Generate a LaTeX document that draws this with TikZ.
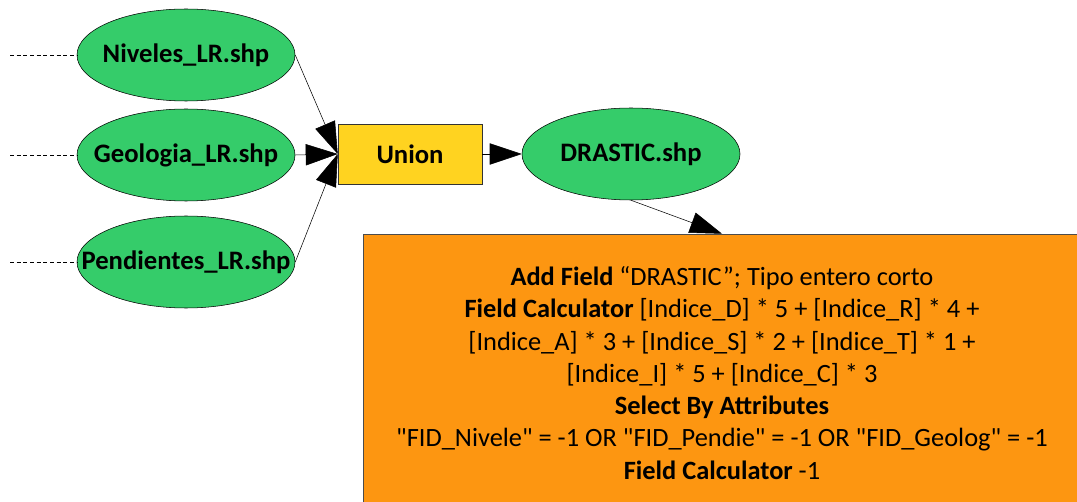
\documentclass[tikz,border=0pt]{standalone}
\usepackage{fontspec}
\setmainfont{Carlito}
\usepackage{tikz}
\usetikzlibrary{arrows.meta,shapes.geometric}
\definecolor{verde}{HTML}{35CC6A}
\definecolor{giallo}{HTML}{FFD320}
\definecolor{arancio}{HTML}{FD9611}
\newcommand{\qq}{\textquotedbl}

\tikzset{
  shp/.style={ellipse, draw=black, thin, fill=verde, minimum width=163.5pt,
    minimum height=69pt, inner xsep=-25pt, inner ysep=0pt,
    font=\fontsize{20}{24}\selectfont\bfseries},
  strumento/.style={rectangle, draw=black!80, thin, fill=giallo,
    minimum width=108pt, minimum height=45pt,
    font=\fontsize{20}{24}\selectfont\bfseries},
  calcolo/.style={rectangle, draw=black!70, thin, fill=arancio, align=center,
    minimum width=538.5pt, minimum height=208.5pt,
    font=\fontsize{19.8}{24.2}\selectfont},
  freccia/.style={-{Triangle[length=24pt,width=16pt]}, thin},
  ingresso/.style={thin, dash pattern=on 3pt off 2pt},
}

\begin{document}
\begin{tikzpicture}[x=0.75pt, y=-0.75pt]
        \useasboundingbox (0,0) rectangle (1077,502);
        \clip (0,0) rectangle (1077,502);
        % strati di ingresso
        \node[shp] (niv) at (186,55) {Niveles\_LR.shp};
        \node[shp] (geo) at (186,155) {Geologia\_LR.shp};
        \node[shp] (pen) at (186,262) {Pendientes\_LR.shp};
        \coordinate (niv0) at (10,55);
        \coordinate (geo0) at (10,155);
        \coordinate (pen0) at (10,262);
        \draw[ingresso] (niv0) -- (niv);
        \draw[ingresso] (geo0) -- (geo);
        \draw[ingresso] (pen0) -- (pen);
        % unione
        \node[strumento] (union) at (410,154) {Union};
        \node[shp] (drastic) at (631,154) {DRASTIC.shp};
        \draw[freccia] (niv.east) -- (union.west);
        \draw[freccia] (geo.east) -- (union.west);
        \draw[freccia] (pen.east) -- (union.west);
        \draw[freccia] (union.east) -- (drastic.west);
        % calcolo dell'indice
        \node[calcolo] (calc) at (722,373)
          {\textbf{Add Field} “DRASTIC”; Tipo entero corto\\
           \textbf{Field Calculator} {[}Indice\_D] * 5 + {[}Indice\_R] * 4 +\\
           {[}Indice\_A] * 3 + {[}Indice\_S] * 2 + {[}Indice\_T] * 1 +\\
           {[}Indice\_I] * 5 + {[}Indice\_C] * 3\\
           \textbf{Select By Attributes}\\
           \qq FID\_Nivele\qq{} = -1 OR \qq FID\_Pendie\qq{} = -1 OR \qq FID\_Geolog\qq{} = -1\\
           \textbf{Field Calculator} -1};
        \draw[freccia] (drastic.south) -- (calc.north);
    \end{tikzpicture}
\end{document}
